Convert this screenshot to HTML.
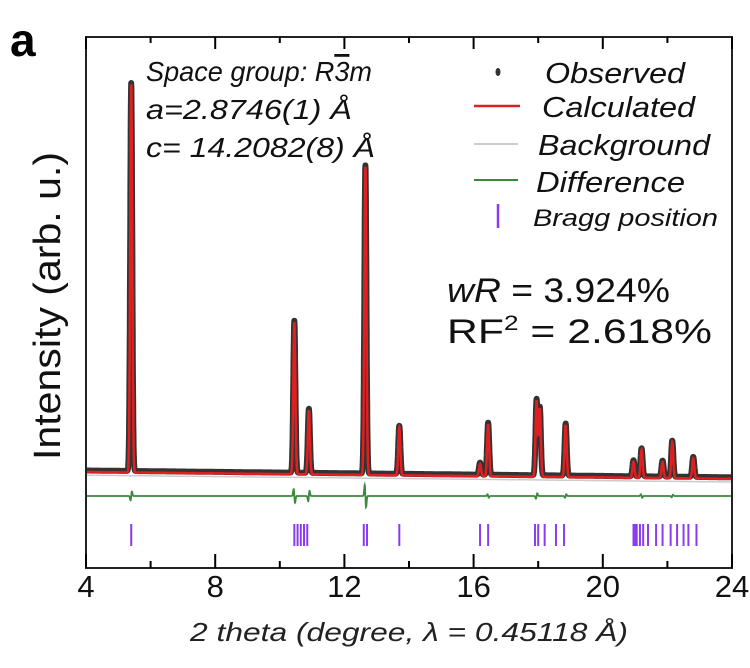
<!DOCTYPE html>
<html><head><meta charset="utf-8"><style>
body{margin:0;background:#fff}
svg{display:block;font-family:"Liberation Sans",sans-serif}
</style></head><body>
<svg width="750" height="668" viewBox="0 0 750 668">
<text x="10" y="56" font-size="46" font-weight="bold">a</text>
<g id="plot"></g>
<rect x="86" y="37" width="646" height="531" fill="none" stroke="#222" stroke-width="2"/>
<g id="ticks"></g>
<text x="190" y="641" font-size="26" font-style="italic" textLength="438" lengthAdjust="spacingAndGlyphs" fill="#222">2 theta (degree, λ = 0.45118 Å)</text>
<text transform="translate(60,306) rotate(-90)" font-size="38" text-anchor="middle" textLength="308" lengthAdjust="spacingAndGlyphs" fill="#111">Intensity (arb. u.)</text>
<g font-size="28" font-style="italic" fill="#111">
<text x="146" y="81" textLength="226" lengthAdjust="spacingAndGlyphs">Space group: R<tspan text-decoration="overline">3</tspan>m</text>
<text x="146" y="119" textLength="206" lengthAdjust="spacingAndGlyphs">a=2.8746(1) Å</text>
<text x="146" y="157" textLength="229" lengthAdjust="spacingAndGlyphs">c= 14.2082(8) Å</text>
</g>
<g fill="#111">
<ellipse cx="498" cy="72" rx="2.5" ry="4" fill="#333"/>
<text x="545" y="83" font-size="29" font-style="italic" textLength="140" lengthAdjust="spacingAndGlyphs">Observed</text>
<line x1="474" y1="106" x2="520" y2="106" stroke="#e02020" stroke-width="2.5"/>
<text x="542" y="117" font-size="29" font-style="italic" textLength="153" lengthAdjust="spacingAndGlyphs">Calculated</text>
<line x1="474" y1="144" x2="518" y2="144" stroke="#bbb" stroke-width="1.5"/>
<text x="538" y="155" font-size="29" font-style="italic" textLength="172" lengthAdjust="spacingAndGlyphs">Background</text>
<line x1="474" y1="180" x2="518" y2="180" stroke="#3a8a3a" stroke-width="2"/>
<text x="536" y="192" font-size="29" font-style="italic" textLength="149" lengthAdjust="spacingAndGlyphs">Difference</text>
<line x1="498" y1="204" x2="498" y2="228" stroke="#8a3cf0" stroke-width="2.5"/>
<text x="533" y="226" font-size="24" font-style="italic" textLength="185" lengthAdjust="spacingAndGlyphs">Bragg position</text>
</g>
<text x="447" y="302" font-size="34" textLength="223" lengthAdjust="spacingAndGlyphs" fill="#111"><tspan font-style="italic">wR</tspan> = 3.924%</text>
<text x="447" y="343" font-size="34" textLength="265" lengthAdjust="spacingAndGlyphs" fill="#111">RF<tspan font-size="21" dy="-13">2</tspan><tspan dy="13"> = 2.618%</tspan></text>
</svg>
<script>
const peakPos=[5.4,10.45,10.9,12.65,13.7,16.2,16.45,17.95,18.05,18.85,20.95,21.2,21.85,22.15,22.8];
const peakHeight=[97,38,16,77,12,3,13,19,17,13,4,7,4,9,5];
const diffPos=[5.4,10.45,10.9,12.65,17.95,18.85,16.45,21.2,22.15];
const diffAmp=[10,-16,12,-26,6,4,-4,-4,3];
const braggPos=[5.4,10.45,10.55,10.65,10.75,10.85,12.6,12.7,13.7,16.2,16.45,17.9,18.0,18.2,18.55,18.8,20.95,21.0,21.05,21.15,21.25,21.4,21.65,21.85,22.1,22.3,22.5,22.65,22.9];
const xTicks=[4,8,12,16,20,24];
const xMinor=[6,10,14,18,22];
const NS='http://www.w3.org/2000/svg';
const X=v=>86+(v-4)*(646/20);
const Y=v=>472-v*4;
function mk(t,a,p){const e=document.createElementNS(NS,t);for(const k in a)e.setAttribute(k,a[k]);p.appendChild(e);return e;}
const plot=document.getElementById('plot');
function bg(x){return -(x-4)*0.085;}
function prof(x){let s=bg(x);peakPos.forEach((p,i)=>{s+=peakHeight[i]*Math.exp(-Math.pow((x-p)/0.045,2));});return s;}
let dObs='',dCalc='',dBg='',dDiff='';
for(let x=4;x<=24.0001;x+=0.005){
 const c=(dCalc?'L':'M');
 dCalc+=c+X(x).toFixed(1)+','+Y(prof(x)).toFixed(1);
 dObs+=c+X(x).toFixed(1)+','+(Y(prof(x))-1.5).toFixed(1);
 dBg+=c+X(x).toFixed(1)+','+Y(bg(x)-0.8).toFixed(1);
 let df=0;diffPos.forEach((p,i)=>{df+=diffAmp[i]*(x-p)/0.03*Math.exp(-Math.pow((x-p)/0.03,2));});
 dDiff+=c+X(x).toFixed(1)+','+(496-df).toFixed(1);
}
const o=mk('path',{d:dObs,fill:'none',stroke:'#333',"stroke-width":6,"stroke-linejoin":'round'},plot);


const b=mk('path',{d:dBg,fill:'none',stroke:'#ccc',"stroke-width":1.5},plot);


const c=mk('path',{d:dCalc,fill:'none',stroke:'#e02020',"stroke-width":2.5},plot);


const d=mk('path',{d:dDiff,fill:'none',stroke:'#3a8a3a',"stroke-width":1.8},plot);


braggPos.forEach(p=>{const l=mk('line',{x1:X(p),x2:X(p),y1:524,y2:546,stroke:'#8a3cf0',"stroke-width":2},plot);
 
 });
const tk=document.getElementById('ticks');
xTicks.forEach(v=>{mk('line',{x1:X(v),x2:X(v),y1:568,y2:554,stroke:'#000',"stroke-width":2},tk);
 mk('line',{x1:X(v),x2:X(v),y1:37,y2:49,stroke:'#000',"stroke-width":2},tk);
 const t=mk('text',{x:X(v),y:597,"font-size":31,"text-anchor":'middle',fill:'#111'},tk);t.textContent=v;
 
 });
xMinor.forEach(v=>{mk('line',{x1:X(v),x2:X(v),y1:568,y2:561,stroke:'#000',"stroke-width":2},tk);
 mk('line',{x1:X(v),x2:X(v),y1:37,y2:43,stroke:'#000',"stroke-width":2},tk);});
</script>
</body></html>
